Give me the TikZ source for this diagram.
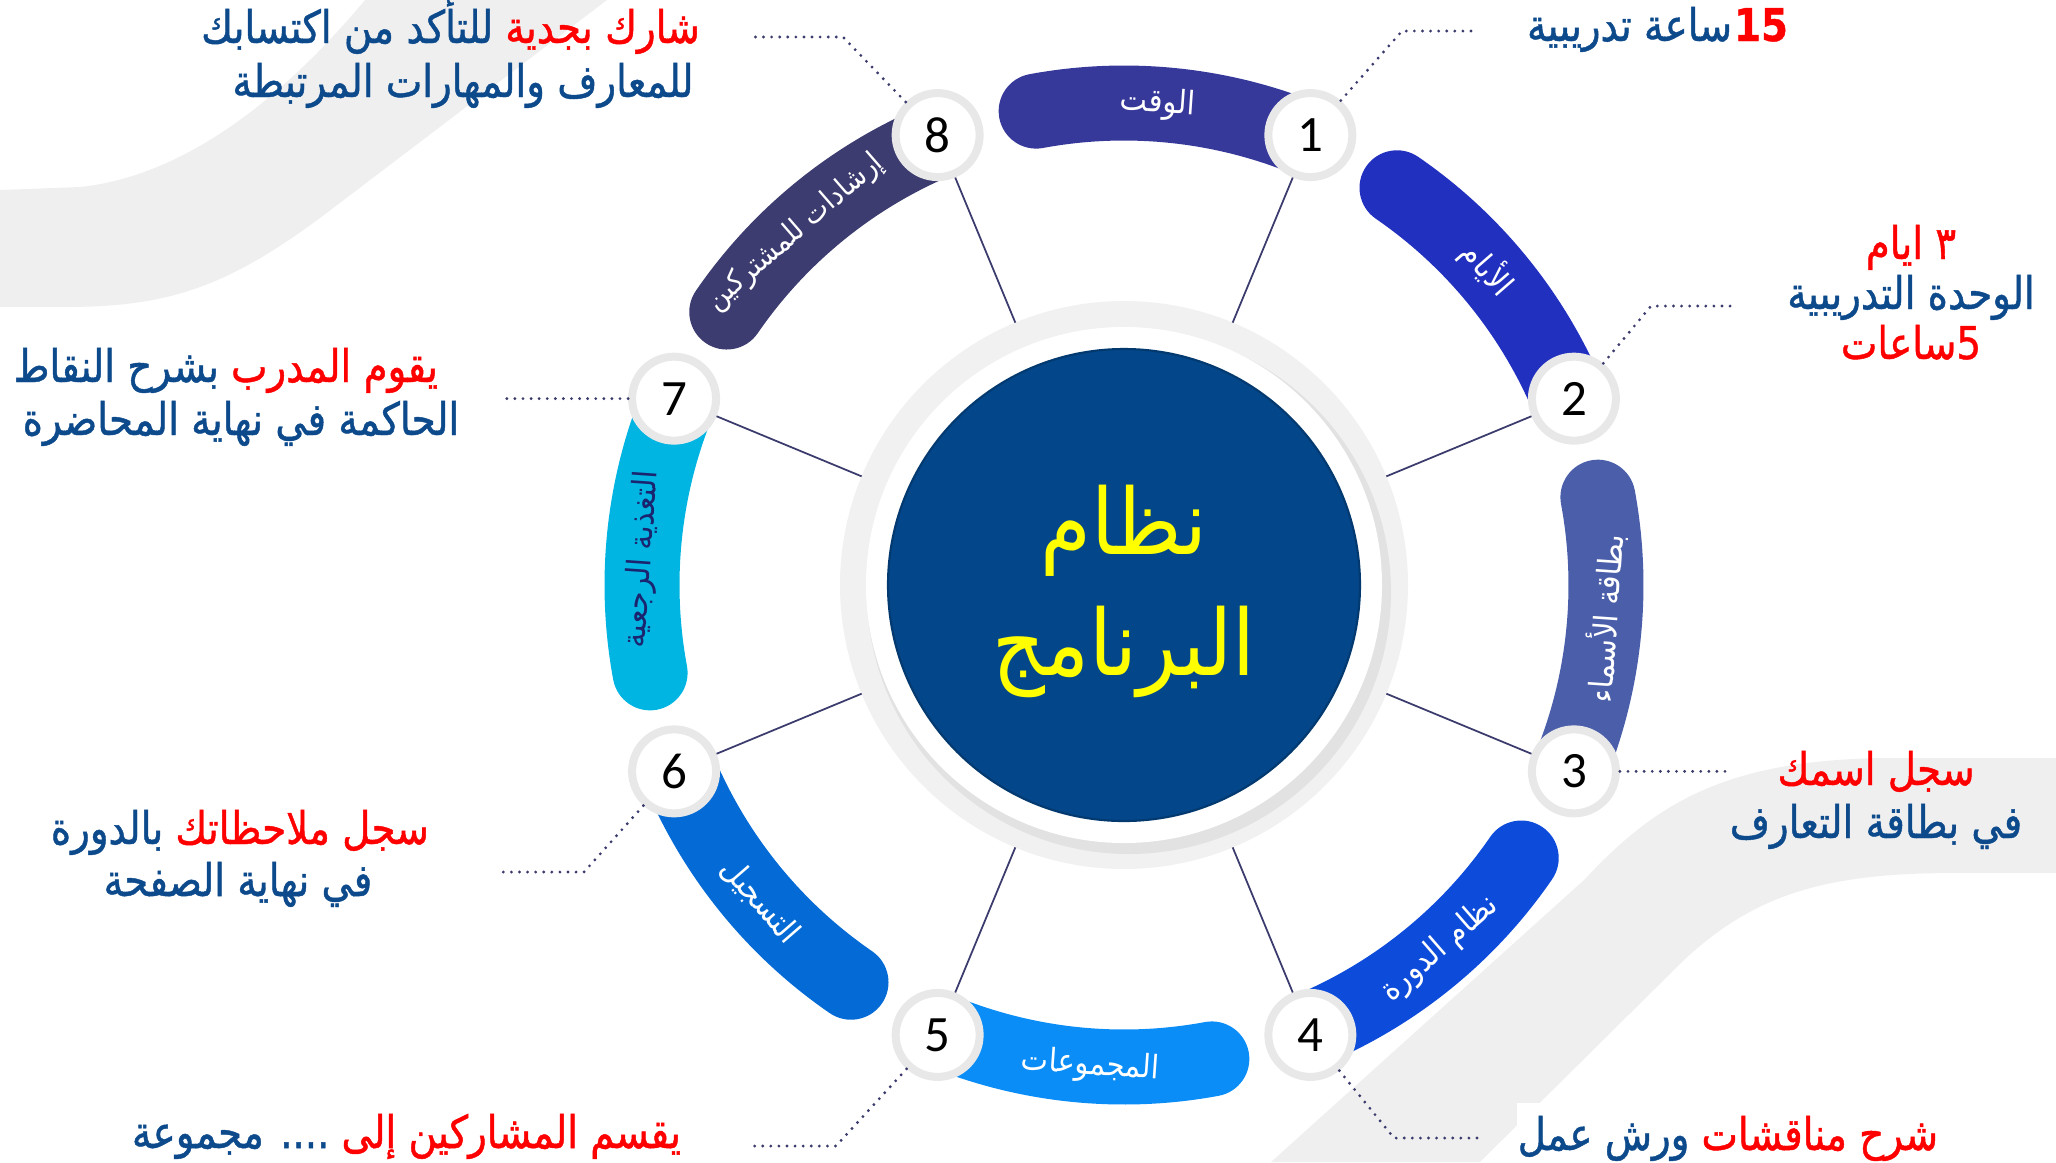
\documentclass[tikz,border=0pt]{standalone}
\usepackage{fontspec}
\usepackage{tikz}
\usetikzlibrary{positioning,shadows}
\newfontfamily\arabicfont[Script=Arabic,FakeStretch=0.9]{DejaVu Sans}
\newfontfamily\notefont[Script=Arabic,FakeStretch=0.86,FakeBold=1]{DejaVu Sans}
\newfontfamily\numfont{Carlito}
\TeXXeTstate=1

\definecolor{deepblue}{HTML}{0D4A8C}
\definecolor{accent}{HTML}{FF0000}
\definecolor{corefill}{HTML}{03468A}
\definecolor{coreedge}{HTML}{02396F}
\definecolor{spokecol}{HTML}{3B3B6D}
\definecolor{bandgray}{HTML}{EFEFEF}
\definecolor{ringgray}{HTML}{F1F1F1}
\definecolor{ringshade}{HTML}{E2E2E2}
\definecolor{titleyellow}{HTML}{FFFF00}
\definecolor{navytxt}{HTML}{1B246E}
\definecolor{arcA}{HTML}{36399A}
\definecolor{arcB}{HTML}{2130BE}
\definecolor{arcC}{HTML}{4A5EAA}
\definecolor{arcD}{HTML}{0D4BDB}
\definecolor{arcE}{HTML}{0A8DF7}
\definecolor{arcF}{HTML}{046BD6}
\definecolor{arcG}{HTML}{00B5E2}
\definecolor{arcH}{HTML}{3C3C70}

\begin{document}
\begin{tikzpicture}[semithick,
    notetxt/.style={font=\notefont\fontsize{12.8}{15}\selectfont, text=deepblue, inner sep=0pt},
    headline/.style={font=\arabicfont\fontsize{26}{30}\selectfont, text=titleyellow, inner sep=0pt},
    band/.style={line width=0.75cm, line cap=round},
    bandlabel/.style={font=\arabicfont\fontsize{9.2}{11}\selectfont, inner sep=0pt},
    numcirc/.style={circle, fill=white, draw=gray!18, line width=0.08cm, minimum size=0.84cm, inner sep=0pt,
        font=\numfont\fontsize{14.5}{16}\selectfont,
        drop shadow={shadow xshift=0.01cm, shadow yshift=-0.03cm, opacity=0.15}},
    spoke/.style={draw=spokecol, line width=0.5pt},
    leader/.style={draw=spokecol, line width=0.9pt, line cap=round, dash pattern=on 0pt off 2.3pt}]

            \useasboundingbox (-11.24,-5.77) rectangle (9.32,5.85);

            % background swooshes
            \fill[bandgray] (-11.24,3.95) -- (-10.44,3.98) .. controls (-9.3,4.1) and (-8.3,5.0) .. (-7.59,5.85)
                -- (-5.17,5.85) -- (-8.0,3.7) .. controls (-9.0,2.95) and (-9.6,2.78) .. (-10.6,2.78) -- (-11.24,2.78) -- cycle;
            \fill[bandgray] (9.32,-1.73) -- (7.7,-1.73) .. controls (6.0,-1.73) and (5.3,-2.2) .. (4.6,-2.95)
                -- (1.47,-5.77) -- (3.56,-5.77) -- (5.6,-3.75) .. controls (6.3,-3.1) and (7.0,-2.88) .. (8.3,-2.88) -- (9.32,-2.88) -- cycle;
            \fill[white] (3.93,-5.18) rectangle (8.6,-5.77);

            % ring and core
            \fill[ringgray] (0,0) circle (2.84);
            \fill[ringshade] (0.05,-0.07) circle (2.62);
            \fill[white] (0,0) circle (2.58);
            \node[circle, fill=corefill, draw=coreedge, line width=0.6pt, minimum size=4.72cm, inner sep=0pt] (core) at (0,0) {};
            \node[headline, anchor=base] (c1) at (0,0.31) {\beginR نظام\endR};
            \node[headline, anchor=base] (c2) at (0,-0.90) {\beginR البرنامج\endR};

            \newcommand{\ringitem}[7]{
                \draw[band, draw=#3] (#2:4.82) arc[start angle=#2, delta angle=33, radius=4.82];
                \node[bandlabel, text=#6, rotate=#4] (b#1) at (#2+#7:4.82) {#5};
                \node[numcirc] (n#1) at (#2:4.87) {#1};
                \coordinate (s#1) at (#2:2.84);
                \draw[spoke] (n#1) -- (s#1);
            }

            \ringitem{1}{67.5}{arcA}{-4}{\beginR الوقت\endR}{white}{18.5};
            \ringitem{2}{22.5}{arcB}{-49}{\beginR الأيام\endR}{white}{18.5};
            \ringitem{3}{-22.5}{arcC}{86}{\beginR بطاقة الأسماء\endR}{white}{18.5};
            \ringitem{4}{-67.5}{arcD}{41}{\beginR نظام الدورة\endR}{white}{18.5};
            \ringitem{5}{-112.5}{arcE}{-4}{\beginR المجموعات\endR}{white}{18.5};
            \ringitem{6}{-157.5}{arcF}{-49}{\beginR التسجيل\endR}{white}{18.5};
            \ringitem{7}{157.5}{arcG}{86}{\beginR التغذية الرجعية\endR}{navytxt}{19.5};
            \ringitem{8}{112.5}{arcH}{41}{\fontsize{8.4}{10}\selectfont\beginR إرشادات للمشتركين\endR}{white}{20.5};

            % dotted leaders
            \coordinate (k1) at (2.78,5.54);
            \coordinate (l1) at (3.53,5.54);
            \draw[leader] (n1) -- (k1) -- (l1);
            \coordinate (k2) at (5.27,2.79);
            \coordinate (l2) at (6.09,2.79);
            \draw[leader] (n2) -- (k2) -- (l2);
            \coordinate[right=1.13 of n3] (l3);
            \draw[leader] (n3) -- (l3);
            \coordinate (k4) at (2.70,-5.53);
            \coordinate (l4) at (3.55,-5.53);
            \draw[leader] (n4) -- (k4) -- (l4);
            \coordinate (k5) at (-2.88,-5.61);
            \coordinate (l5) at (-3.76,-5.61);
            \draw[leader] (n5) -- (k5) -- (l5);
            \coordinate (k6) at (-5.40,-2.87);
            \coordinate (l6) at (-6.22,-2.87);
            \draw[leader] (n6) -- (k6) -- (l6);
            \coordinate[left=1.26 of n7] (l7);
            \draw[leader] (n7) -- (l7);
            \coordinate (k8) at (-2.81,5.48);
            \coordinate (l8) at (-3.76,5.48);
            \draw[leader] (n8) -- (k8) -- (l8);

            % texts
            \node[notetxt, text=accent, anchor=base east] (t1a) at (6.65,5.44) {\bfseries 15};
            \node[notetxt, base left=0pt of t1a] (t1b) {\beginR ساعة تدريبية\endR};

            \node[notetxt, text=accent, anchor=base] (t2a) at (7.87,3.26) {\beginR ٣ ايام\endR};
            \node[notetxt, anchor=base] (t2b) at (7.87,2.76) {\beginR الوحدة التدريبية\endR};
            \node[notetxt, text=accent, anchor=base] (t2c) at (7.87,2.26) {\beginR\beginL5\endL ساعات\endR};

            \node[notetxt, text=accent, anchor=base] (t3a) at (7.52,-2.00) {\beginR سجل اسمك\endR};
            \node[notetxt, anchor=base] (t3b) at (7.52,-2.53) {\beginR في بطاقة التعارف\endR};

            \node[notetxt, text=accent, anchor=base east] (t4a) at (8.15,-5.65) {\beginR شرح مناقشات\endR};
            \node[notetxt, base left=0.1 of t4a] (t4b) {\beginR ورش عمل\endR};

            \node[notetxt, text=accent, anchor=base east] (t5a) at (-4.42,-5.63) {\beginR يقسم المشاركين إلى\endR};
            \node[notetxt, base left=0.1 of t5a] (t5b) {\beginR .... مجموعة\endR};

            \node[notetxt, text=accent, anchor=base east] (t6a) at (-6.94,-2.59) {\beginR سجل ملاحظاتك\endR};
            \node[notetxt, base left=0.1 of t6a] (t6b) {\beginR بالدورة\endR};
            \node[notetxt, anchor=base] (t6c) at (-8.86,-3.11) {\beginR في نهاية الصفحة\endR};

            \node[notetxt, text=accent, anchor=base east] (t7a) at (-6.85,2.03) {\beginR يقوم المدرب\endR};
            \node[notetxt, base left=0.1 of t7a] (t7b) {\beginR بشرح النقاط\endR};
            \node[notetxt, anchor=base] (t7c) at (-8.83,1.50) {\beginR الحاكمة في نهاية المحاضرة\endR};

            \node[notetxt, text=accent, anchor=base east] (t8a) at (-4.23,5.42) {\beginR شارك بجدية\endR};
            \node[notetxt, base left=0.1 of t8a] (t8b) {\beginR للتأكد من اكتسابك\endR};
            \node[notetxt, anchor=base] (t8c) at (-6.61,4.88) {\beginR للمعارف والمهارات المرتبطة\endR};
\end{tikzpicture}
\end{document}
